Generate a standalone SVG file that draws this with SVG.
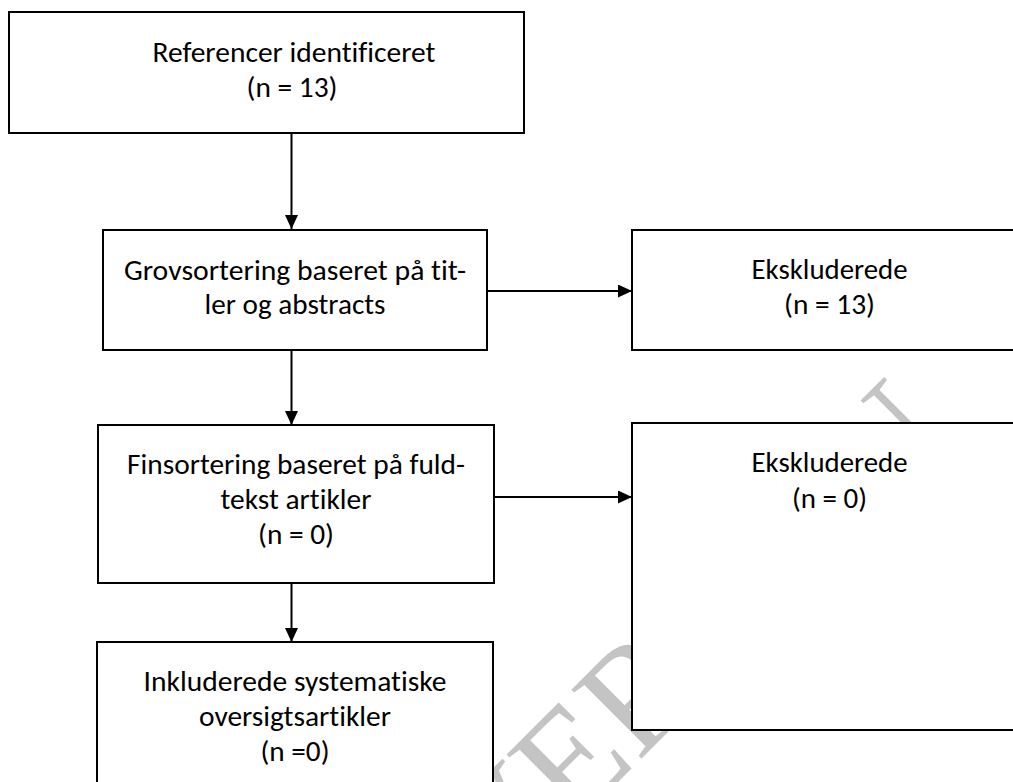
<svg xmlns="http://www.w3.org/2000/svg" width="1013" height="782" viewBox="0 0 1013 782">
  <defs>
    <style>
      .box { fill: #ffffff; stroke: #000000; stroke-width: 2; }
      .lbl { font-family: Carlito, Lato, "Liberation Sans", sans-serif; font-size: 29px; fill: #000000; text-anchor: middle; font-variant-ligatures: none; font-feature-settings: "liga" 0, "clig" 0; }
      .edge { stroke: #000000; stroke-width: 2; fill: none; marker-end: url(#arrow); }
      .wm { font-family: "Liberation Serif", "Times New Roman", serif; font-size: 150px; fill: #c4c4c4; }
    </style>
    <marker id="arrow" markerUnits="userSpaceOnUse" markerWidth="14" markerHeight="13" refX="14" refY="6.5" orient="auto">
      <path d="M0,0 L14,6.5 L0,13 Z" fill="#000000"/>
    </marker>
  </defs>

  <rect width="1013" height="782" fill="#ffffff"/>

  <!-- diagonal watermark, lying under the boxes -->
  <text class="wm" x="25" y="1375" transform="rotate(-45 25 1375)">HØRINGSVERSION</text>

  <g id="connectors">
    <line class="edge" x1="291.5" y1="133" x2="291.5" y2="229"/>
    <line class="edge" x1="487" y1="291" x2="632" y2="291"/>
    <line class="edge" x1="291.5" y1="350" x2="291.5" y2="425"/>
    <line class="edge" x1="494" y1="497" x2="632" y2="497"/>
    <line class="edge" x1="291.5" y1="583" x2="291.5" y2="642"/>
  </g>

  <g id="node-identified">
    <rect class="box" x="9" y="12" width="515" height="121"/>
    <text class="lbl" x="294" y="61.5" textLength="283" lengthAdjust="spacingAndGlyphs">Referencer identificeret</text>
    <text class="lbl" x="292" y="96.5" textLength="91" lengthAdjust="spacingAndGlyphs">(n = 13)</text>
  </g>

  <g id="node-screening">
    <rect class="box" x="103" y="230" width="384" height="120"/>
    <text class="lbl" x="295" y="279.5" textLength="342" lengthAdjust="spacingAndGlyphs">Grovsortering baseret på tit-</text>
    <text class="lbl" x="295" y="314" textLength="181" lengthAdjust="spacingAndGlyphs">ler og abstracts</text>
  </g>

  <g id="node-excluded-1">
    <rect class="box" x="632" y="230" width="400" height="120"/>
    <text class="lbl" x="829.5" y="278.5" textLength="156" lengthAdjust="spacingAndGlyphs">Ekskluderede</text>
    <text class="lbl" x="829.5" y="314" textLength="91" lengthAdjust="spacingAndGlyphs">(n = 13)</text>
  </g>

  <g id="node-fulltext">
    <rect class="box" x="98" y="425" width="396" height="158"/>
    <text class="lbl" x="296" y="474" textLength="338" lengthAdjust="spacingAndGlyphs">Finsortering baseret på fuld-</text>
    <text class="lbl" x="296" y="509" textLength="151" lengthAdjust="spacingAndGlyphs">tekst artikler</text>
    <text class="lbl" x="296" y="544" textLength="76" lengthAdjust="spacingAndGlyphs">(n = 0)</text>
  </g>

  <g id="node-excluded-2">
    <rect class="box" x="632" y="423" width="400" height="307"/>
    <text class="lbl" x="829.5" y="471.7" textLength="156" lengthAdjust="spacingAndGlyphs">Ekskluderede</text>
    <text class="lbl" x="829.5" y="507.7" textLength="75" lengthAdjust="spacingAndGlyphs">(n = 0)</text>
  </g>

  <g id="node-included">
    <rect class="box" x="97" y="642" width="396" height="160"/>
    <text class="lbl" x="295" y="690.5" textLength="303" lengthAdjust="spacingAndGlyphs">Inkluderede systematiske</text>
    <text class="lbl" x="295" y="725.5" textLength="192" lengthAdjust="spacingAndGlyphs">oversigtsartikler</text>
    <text class="lbl" x="295" y="760.5" textLength="69" lengthAdjust="spacingAndGlyphs">(n =0)</text>
  </g>
</svg>
